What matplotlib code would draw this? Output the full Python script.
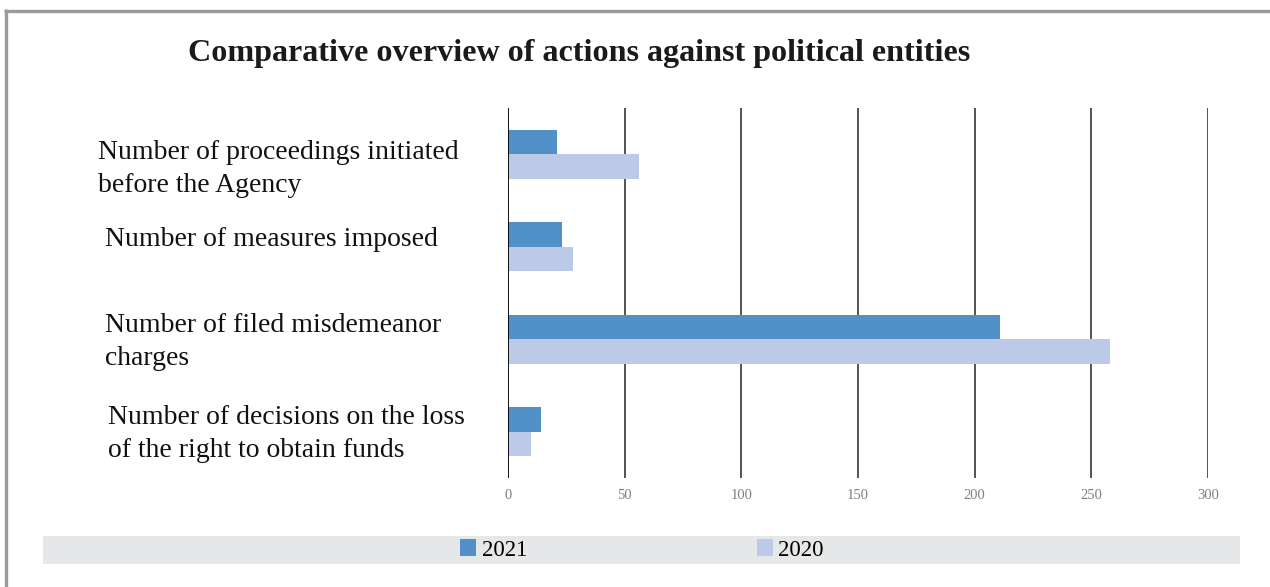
import matplotlib
matplotlib.use("Agg")
import matplotlib.pyplot as plt
from matplotlib.patches import Rectangle
from matplotlib.lines import Line2D
import numpy as np

categories = [
    "Number of proceedings initiated\nbefore the Agency",
    "Number of measures imposed",
    "Number of filed misdemeanor\ncharges",
    "Number of decisions on the loss\nof the right to obtain funds",
]
values_2021 = [21, 23, 211, 14]
values_2020 = [56, 28, 258, 10]
series_labels = ["2021", "2020"]
x_ticks = [0, 50, 100, 150, 200, 250, 300]
title = "Comparative overview of actions against political entities"

W, H = 1270, 587
plt.rcParams["font.family"] = ["Liberation Serif", "DejaVu Serif"]
fig = plt.figure(figsize=(W / 100, H / 100), dpi=100)


def fx(px):
    return px / W


def fy(py):
    return 1 - py / H


# outer frame (top and left edges)
fig.add_artist(Line2D([fx(4.3), fx(W)], [fy(10.5), fy(10.5)], color="#9b9b9b", lw=2.4,
                      transform=fig.transFigure, solid_capstyle="butt"))
fig.add_artist(Line2D([fx(5.5), fx(5.5)], [fy(9.3), fy(H)], color="#9b9b9b", lw=2.4,
                      transform=fig.transFigure, solid_capstyle="butt"))

ax = fig.add_axes([fx(508), fy(478), fx(1208) - fx(508), fy(108) - fy(478)])

y = np.arange(len(categories))
bh = 0.265
b1 = ax.barh(y - bh / 2, values_2021, height=bh, color="#5191C8", label=series_labels[0], zorder=3)
b2 = ax.barh(y + bh / 2, values_2020, height=bh, color="#BCCAE7", label=series_labels[1], zorder=3)

ax.set_ylim(len(categories) - 0.5, -0.5)
ax.set_xlim(0, 300)
ax.set_xticks(x_ticks)
ax.set_xticklabels([str(t) for t in x_ticks], color="#7f7f7f", fontsize=10.5)
ax.tick_params(axis="x", length=0, pad=8)
ax.set_yticks([])
for s in ax.spines.values():
    s.set_visible(False)
for t in x_ticks[1:]:
    ax.axvline(t, color="#262626", lw=1.1, zorder=1)
ax.axvline(0, color="black", lw=1.3, zorder=4)

# category labels to the left of the bars
label_pos = [(98, 169), (105, 239), (105, 342), (108, 434)]
for text, (px, py) in zip(categories, label_pos):
    fig.text(fx(px), fy(py), text, ha="left", va="center", fontsize=20,
             linespacing=1.42, color="#111111")

fig.text(fx(579), fy(53), title, ha="center", va="center", fontsize=23.1,
         fontweight="bold", color="#1a1a1a")

# legend band
fig.add_artist(Rectangle((fx(43), fy(564)), fx(1240) - fx(43), fy(536) - fy(564),
                         transform=fig.transFigure, facecolor="#E6E7E8", edgecolor="none"))
fig.legend(handles=[b1, b2], labels=series_labels, loc="center",
           bbox_to_anchor=(fx(642), fy(550)), ncol=2, frameon=False, fontsize=16.5,
           handlelength=0.7, handleheight=0.7, handletextpad=0.25, columnspacing=10.0,
           borderpad=0)

fig.savefig("out.png", dpi=100)
